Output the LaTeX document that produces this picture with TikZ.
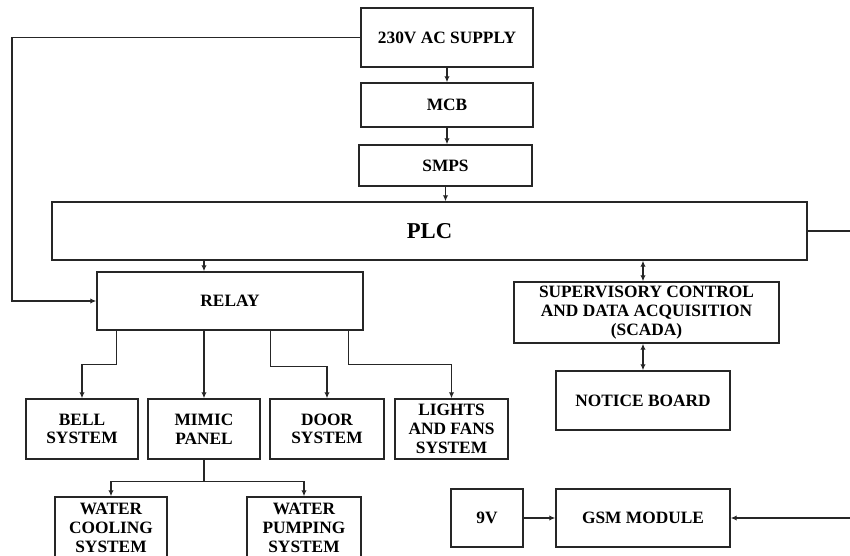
\documentclass[tikz,border=0pt]{standalone}
\usepackage{fontspec}
\setmainfont{Liberation Serif}
\usetikzlibrary{arrows.meta,calc}
\tikzset{
  box/.style={draw=black!85, line width=1.1pt, rectangle, align=center, inner sep=0pt,
    font=\fontsize{13pt}{14pt}\selectfont\bfseries},
  wh/.style 2 args={minimum width={#1*0.75pt}, minimum height={#2*0.75pt}},
  conn/.style={draw=black!85, line width=1.1pt},
  arr/.style={conn, -{Latex[length=4.5pt,width=4pt]}},
  darr/.style={conn, {Latex[length=4.5pt,width=4pt]}-{Latex[length=4.5pt,width=4pt]}}
}
\begin{document}
\begin{tikzpicture}[x=0.75pt,y=-0.75pt]
\useasboundingbox (0,0) rectangle (850,556);
\fill[white] (0,0) rectangle (850,556);
% nodes
\node[box,wh={172}{59}] (supply) at (447,37.5) {230V AC SUPPLY};
\node[box,wh={172}{44}] (mcb) at (447,105) {MCB};
\node[box,wh={173}{41}] (smps) at (445.5,165.5) {SMPS};
\node[box,wh={755}{58},font=\fontsize{17pt}{18pt}\selectfont\bfseries] (plc) at (429.5,231) {PLC};
\node[box,wh={266}{58}] (relay) at (230,301) {RELAY};
\node[box,wh={265}{61}] (scada) at (646.5,312.5) {SUPERVISORY CONTROL\\AND DATA ACQUISITION\\(SCADA)};
\node[box,wh={174}{59}] (notice) at (643,400.5) {NOTICE BOARD};
\node[box,wh={112}{60}] (bell) at (82,429) {BELL\\SYSTEM};
\node[box,wh={112}{60}] (mimic) at (204,429) {MIMIC\\PANEL};
\node[box,wh={114}{60}] (door) at (327,429) {DOOR\\SYSTEM};
\node[box,wh={113}{60}] (lights) at (451.5,429) {LIGHTS\\AND FANS\\SYSTEM};
\node[box,wh={112}{62}] (cooling) at (111,528) {WATER\\COOLING\\SYSTEM};
\node[box,wh={114}{62}] (pumping) at (304,528) {WATER\\PUMPING\\SYSTEM};
\node[box,wh={72}{58}] (nine) at (487,518) {9V};
\node[box,wh={174}{58}] (gsm) at (643,518) {GSM MODULE};
% coordinates
\coordinate (lt) at (12,37.5);
\coordinate (pr) at (850,231);
\coordinate (gr) at (850,518);
% connectors
\draw[arr] (supply.west) -- (lt) |- (relay.west);
\draw[arr] (supply.south) -- (mcb.north);
\draw[arr] (mcb.south) -- (mcb.south |- smps.north);
\draw[arr] (smps.south) -- (smps.south |- plc.north);
\draw[conn] (plc.east) -- (pr);
\draw[arr] (plc.south -| mimic.north) -- (relay.north -| mimic.north);
\draw[darr] (plc.south -| notice.north) -- (scada.north -| notice.north);
\draw[darr] (scada.south -| notice.north) -- (notice.north);
\draw[arr] ($(relay.south west)+(20,0)$) -- ++(0,34) -| (bell.north);
\draw[arr] (relay.south -| mimic.north) -- (mimic.north);
\draw[arr] ($(relay.south west)+(174,0)$) -- ++(0,36) -| (door.north);
\draw[arr] ($(relay.south west)+(252,0)$) -- ++(0,34) -| (lights.north);
\draw[conn] (mimic.south) -- ++(0,22) coordinate (mj);
\draw[arr] (mj) -| (cooling.north);
\draw[arr] (mj) -| (pumping.north);
\draw[arr] (nine.east) -- (gsm.west);
\draw[arr] (gr) -- (gsm.east);
\end{tikzpicture}
\end{document}
